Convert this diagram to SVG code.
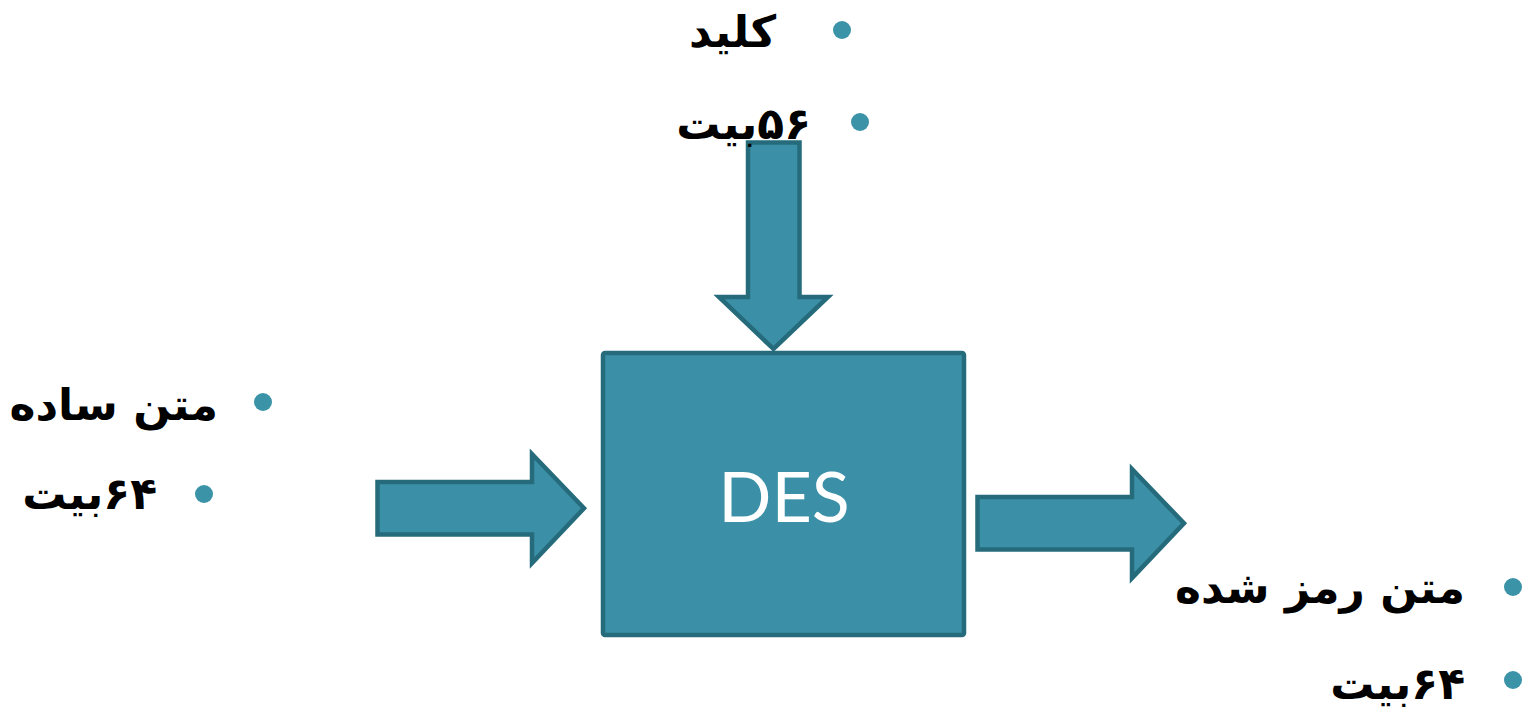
<svg xmlns="http://www.w3.org/2000/svg" width="1539" height="709" viewBox="0 0 1539 709">
  <style>
    .shape { fill: #3b90a7; stroke: #256b7b; stroke-width: 4.5; stroke-linejoin: miter; }
    .bullet { fill: #3b93a8; }
    .label { font-family: "DejaVu Sans", "Noto Sans", sans-serif; font-weight: bold; font-size: 44px; fill: #000; direction: rtl; unicode-bidi: embed; }
    .title { font-family: "Lato", "Open Sans", sans-serif; font-size: 70px; fill: #ffffff; }
  </style>
  <rect width="1539" height="709" fill="#ffffff"/>

  <!-- block arrows feeding into and out of the cipher -->
  <g id="connectors">
    <path id="arrow-key" class="shape" d="M748,142.5 L799.5,142.5 L799.5,297 L828,297 L773.5,349 L719,297 L748,297 Z"/>
    <path id="arrow-plain" class="shape" d="M377.5,482 L532,482 L532,454 L584,508.3 L532,563 L532,534.5 L377.5,534.5 Z"/>
    <path id="arrow-cipher" class="shape" d="M977.5,497 L1132,497 L1132,469 L1184,523.3 L1132,578 L1132,549.5 L977.5,549.5 Z"/>
  </g>

  <!-- DES block -->
  <g id="des">
    <rect class="shape" x="603" y="353" width="361" height="282" rx="2"/>
    <text class="title" x="784" y="522" text-anchor="middle">DES</text>
  </g>

  <!-- key input -->
  <g id="key-label">
    <circle class="bullet" cx="842" cy="30" r="9"/>
    <text class="label" x="776" y="47" text-anchor="start">کلید</text>
    <circle class="bullet" cx="860" cy="122" r="9"/>
    <text class="label" x="811" y="139" text-anchor="start">۵۶بیت</text>
  </g>

  <!-- plaintext input -->
  <g id="plain-label">
    <circle class="bullet" cx="263" cy="402" r="9"/>
    <text class="label" x="218" y="420" text-anchor="start">متن ساده</text>
    <circle class="bullet" cx="204" cy="494" r="9"/>
    <text class="label" x="157" y="509" text-anchor="start">۶۴بیت</text>
  </g>

  <!-- ciphertext output -->
  <g id="cipher-label">
    <circle class="bullet" cx="1513" cy="587" r="9"/>
    <text class="label" x="1465" y="603" text-anchor="start">متن رمز شده</text>
    <circle class="bullet" cx="1513" cy="680" r="9"/>
    <text class="label" x="1465" y="699" text-anchor="start">۶۴بیت</text>
  </g>
</svg>
